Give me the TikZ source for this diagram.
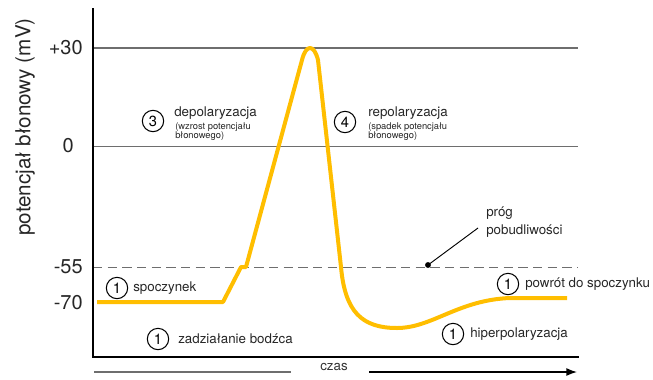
\documentclass[tikz,border=0pt]{standalone}
\usepackage{fontspec}
\setmainfont{TeX Gyre Heros}
\usetikzlibrary{arrows.meta}
\definecolor{curveyellow}{RGB}{255,190,0}
\definecolor{lvlgray}{RGB}{110,110,110}
\begin{document}
\begin{tikzpicture}[x=0.75pt,y=-0.75pt,
  lbl/.style={font=\fontsize{10}{11}\selectfont, text=black!85, inner sep=0pt, anchor=west},
  small/.style={font=\fontsize{7}{7}\selectfont, text=black!85, inner sep=0pt, anchor=north west, align=left},
  num/.style={font=\fontsize{15}{16}\selectfont, text=black!85, inner sep=0pt, anchor=east},
  circ/.style={circle, draw, line width=0.8pt, minimum size=16pt, inner sep=0pt, font=\fontsize{11}{11}\selectfont},
  level/.style={draw=lvlgray, line width=0.9pt}]
\useasboundingbox (0,0) rectangle (653,379);
% level lines
\coordinate (p30l) at (93,48); \coordinate (p30r) at (578,48);
\coordinate (z0l) at (93,146); \coordinate (z0r) at (578,146);
\coordinate (m55l) at (93,267); \coordinate (m55r) at (578,267);
\draw[level] (p30l) -- (p30r);
\draw[level, line width=0.7pt] (z0l) -- (z0r);
\draw[draw=lvlgray, line width=0.7pt, dash pattern=on 7pt off 4pt] (m55l) -- (m55r);
% axes
\coordinate (ytop) at (93,8); \coordinate (orig) at (93,357); \coordinate (xend) at (579,357);
\draw[line width=2pt] (ytop) -- (orig) -- (xend);
% axis labels
\node[num] (l30) at (83,48) {+30};
\node[num] (l0) at (74,146) {0};
\node[num] (l55) at (83,267) {-55};
\node[num] (l70) at (83,303) {-70};
\node[font=\fontsize{15.5}{16}\selectfont, text=black!85, rotate=90, inner sep=0pt] (ylab) at (25,127) {potencjał błonowy (mV)};
% curve
\draw[curveyellow, line width=3pt, line join=round]
  (97,302) -- (223,302) -- (241,267) -- (246,267) -- (302,60)
  .. controls (306,44) and (314,44) .. (318,60)
  -- (341,267) .. controls (345,312) and (362,328) .. (397,328)
  .. controls (432,328) and (458,300) .. (510,298) -- (567,298);
% labels
\node[circ] (c3) at (153,121) {3};
\node[lbl] (t3) at (174,113) {depolaryzacja};
\node[small] (s3) at (175,122) {(wzrost potencjału\\błonowego)};
\node[circ] (c4) at (345,122) {4};
\node[lbl] (t4) at (368,113) {repolaryzacja};
\node[small] (s4) at (368,122) {(spadek potencjału\\błonowego)};
\node[lbl, align=left, anchor=north west, font=\fontsize{10}{13}\selectfont] (prog) at (486,207) {próg\\pobudliwości};
\coordinate (dot) at (428,265);
\fill (dot) circle (2.2pt);
\coordinate (leadend) at (478,228);
\draw[line width=0.7pt] (dot) -- (leadend);
\node[circ] (c1a) at (117,288) {1};
\node[lbl] (t1a) at (133,288) {spoczynek};
\node[circ] (c1b) at (158,339) {1};
\node[lbl] (t1b) at (178,339) {zadziałanie bodźca};
\node[circ] (c1c) at (508,284) {1};
\node[lbl] (t1c) at (525,284) {powrót do spoczynku};
\node[circ] (c1d) at (453,334) {1};
\node[lbl] (t1d) at (470,334) {hiperpolaryzacja};
% time axis
\node[font=\fontsize{10}{11}\selectfont, text=black!80, inner sep=0pt] (czas) at (334,367) {czas};
\coordinate (tl) at (94,372); \coordinate (tm) at (291,372);
\coordinate (ta) at (369,372); \coordinate (tb) at (577,372);
\draw[lvlgray, line width=1pt] (tl) -- (tm);
\draw[line width=1pt, -{Latex[length=8pt,width=6pt]}] (ta) -- (tb);
\end{tikzpicture}
\end{document}
